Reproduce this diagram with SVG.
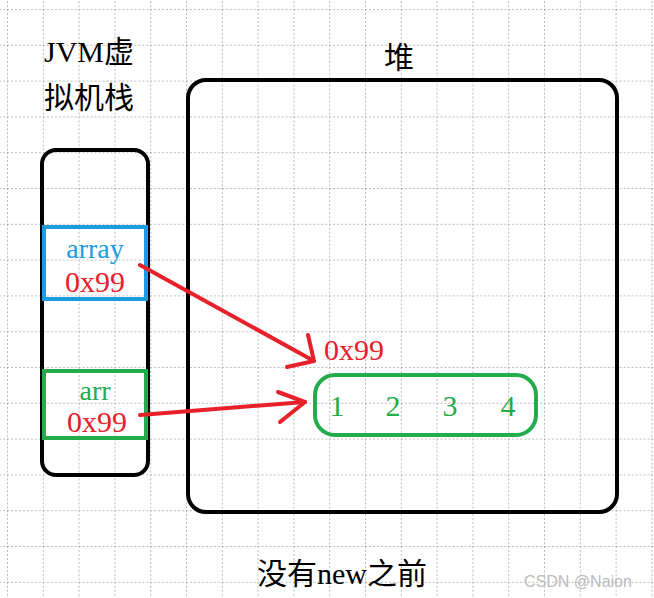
<svg xmlns="http://www.w3.org/2000/svg" width="654" height="598" viewBox="0 0 654 598">
<defs>
<pattern id="g" x="7" y="9" width="35.8" height="35.8" patternUnits="userSpaceOnUse">
<path d="M0 0H35.8M0 0V35.8" fill="none" stroke="#777" stroke-width="1" stroke-dasharray="2 2"/>
</pattern>
<marker id="ah" viewBox="0 0 10 10" refX="9" refY="5" markerWidth="10" markerHeight="10" markerUnits="userSpaceOnUse" orient="auto"/>
</defs>
<style>
.t{font-family:"Liberation Serif","Noto Sans CJK SC",serif;}
.b{fill:none;stroke:#000;stroke-width:4}
.red{stroke:#e8202a;stroke-width:4;fill:none;stroke-linecap:round;stroke-linejoin:round}
</style>
<rect width="654" height="598" fill="#fff"/>
<rect width="654" height="598" fill="url(#g)"/>
<g id="stack">
<rect class="b" x="42" y="150" width="106" height="325" rx="14"/>
<text class="t" x="44" y="62" font-size="30">JVM虚</text>
<text class="t" x="44" y="108" font-size="30">拟机栈</text>
</g>
<g id="heap">
<rect class="b" x="188" y="80" width="429" height="432" rx="18"/>
<text class="t" x="384" y="68" font-size="30">堆</text>
</g>
<g id="array">
<rect x="44" y="227" width="102" height="72" fill="none" stroke="#1a9de0" stroke-width="4"/>
<text class="t" x="95" y="258" font-size="28" fill="#1a9de0" text-anchor="middle">array</text>
<text class="t" x="95" y="292" font-size="30" fill="#e8202a" text-anchor="middle">0x99</text>
</g>
<g id="arr">
<rect x="44" y="371" width="102" height="67" fill="none" stroke="#22ac4a" stroke-width="4"/>
<text class="t" x="95" y="400" font-size="28" fill="#22ac4a" text-anchor="middle">arr</text>
<text class="t" x="97" y="432" font-size="30" fill="#e8202a" text-anchor="middle">0x99</text>
</g>
<g id="obj">
<text class="t" x="324" y="360" font-size="30" fill="#e8202a">0x99</text>
<rect x="315" y="375" width="221" height="60" rx="20" fill="none" stroke="#22ac4a" stroke-width="4"/>
<text class="t" y="416" font-size="30" fill="#22ac4a" text-anchor="middle"><tspan x="337">1</tspan><tspan x="393">2</tspan><tspan x="450">3</tspan><tspan x="508">4</tspan></text>
</g>
<g id="connectors">
<path class="red" d="M140 265L314 361"/>
<path class="red" d="M308 335L314 361L287 367"/>
<path class="red" d="M140 415L305 402"/>
<path class="red" d="M278 392L305 402L280 422"/>
</g>
<text class="t" x="342" y="584" font-size="30" text-anchor="middle">没有new之前</text>
<text x="578" y="587" font-size="16" fill="#bbb" font-family="Liberation Sans,sans-serif" text-anchor="middle">CSDN @Naion</text>
</svg>
